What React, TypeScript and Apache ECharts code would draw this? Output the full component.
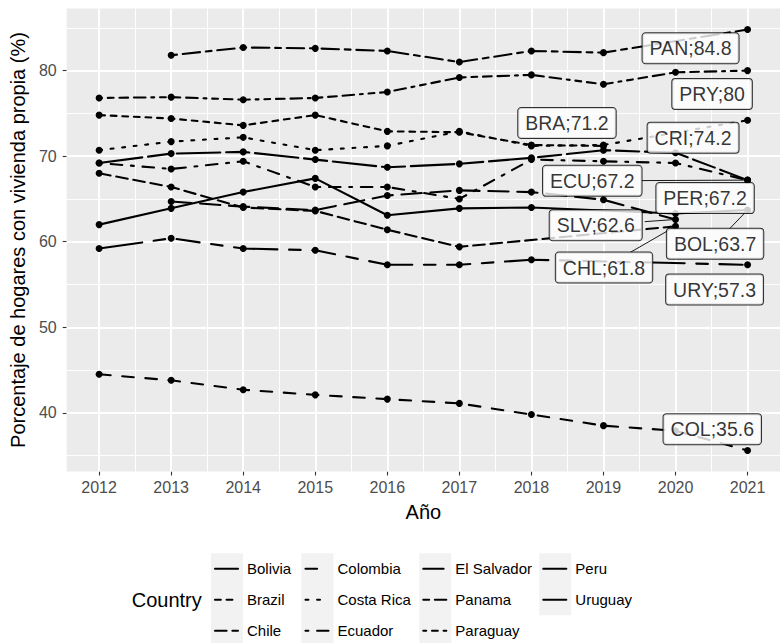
import React, { useEffect, useRef } from 'react';
import * as echarts from 'echarts';

// ---------------- data ----------------
const years = [2012, 2013, 2014, 2015, 2016, 2017, 2018, 2019, 2020, 2021];
const countries = ['Bolivia', 'Brazil', 'Chile', 'Colombia', 'Costa Rica', 'Ecuador', 'El Salvador', 'Panama', 'Paraguay', 'Peru', 'Uruguay'];
const codes = ['BOL', 'BRA', 'CHL', 'COL', 'CRI', 'ECU', 'SLV', 'PAN', 'PRY', 'PER', 'URY'];

const bolivia = [62.0, 63.9, 65.8, 67.4, 63.1, 63.9, 64.0, null, 63.3, 63.7];
const brazil = [74.8, 74.4, 73.6, 74.8, 72.9, 72.8, 71.3, 71.2, null, null];
const chile = [68.0, 66.4, 64.0, 63.6, 61.4, 59.4, null, null, 61.8, null];
const colombia = [44.5, 43.8, 42.7, 42.1, 41.6, 41.1, 39.8, 38.5, 37.9, 35.6];
const costaRica = [70.7, 71.7, 72.2, 70.7, 71.2, 72.9, 71.2, 71.3, null, 74.2];
const ecuador = [69.2, 68.5, 69.4, 66.4, 66.4, 65.0, 69.6, 69.4, 69.2, 67.2];
const elSalvador = [null, 64.7, 64.1, 63.7, 65.4, 66.0, 65.8, 64.9, 62.6, null];
const panama = [null, 81.8, 82.7, 82.6, 82.3, 81.0, 82.3, 82.1, null, 84.8];
const paraguay = [76.8, 76.9, 76.6, 76.8, 77.5, 79.2, 79.5, 78.4, 79.8, 80.0];
const peru = [69.2, 70.3, 70.5, 69.6, 68.7, 69.1, 69.8, 70.7, 70.4, 67.2];
const uruguay = [59.2, 60.4, 59.2, 59.0, 57.3, 57.3, 57.9, null, null, 57.3];

const values: (number | null)[][] = [bolivia, brazil, chile, colombia, costaRica, ecuador, elSalvador, panama, paraguay, peru, uruguay];

const yTicks = [40, 50, 60, 70, 80];
const yMinor = [35, 45, 55, 65, 75, 85];
const xMinor = [2012.5, 2013.5, 2014.5, 2015.5, 2016.5, 2017.5, 2018.5, 2019.5, 2020.5];

// ggplot2 default linetype sequence
const lineTypes = ['solid', '22', '42', '44', '13', '1343', '73', '2262', '12223242', 'F282', 'F4448444'];

// ---------------- layout / style ----------------
const FONT = '"Liberation Sans", Arial, sans-serif';
const DASH_UNIT = 2.9;
const LINE_W = 2.1;
const LABEL_HALF_W = 49;
const LABEL_HALF_H = 15;

// label centre offsets (px) from the labelled point, plus whether a segment is drawn
const LABEL_OFFSETS: Record<string, [number, number, boolean]> = {
  PAN: [-57, 18.7, false],
  PRY: [-35.5, 23.5, false],
  BRA: [-36.5, -22.9, false],
  CRI: [-54.5, 17.6, false],
  ECU: [-155.3, 0.7, true],
  PER: [-42.5, 18, false],
  SLV: [-79.8, 5.7, true],
  BOL: [-32.5, 33.8, true],
  CHL: [-71.5, 41.2, true],
  URY: [-33, 24.7, false],
  COL: [-35.3, -21.3, false],
};

const LEGEND_LEFT = [215, 305.5, 423.3, 543.3];
const LEGEND_TOP = 553.3;
const LEGEND_ROW = 31;
const LEGEND_KEY_W = 32;
const LEGEND_LINE_LEN = 23;

function dash(lt: string): any {
  if (lt === 'solid') return 'solid';
  return lt.split('').map((c) => parseInt(c, 16) * DASH_UNIT);
}

function lastPointsOf() {
  return values.map((arr, i) => {
    let k = arr.length - 1;
    while (k >= 0 && arr[k] == null) k--;
    return { name: codes[i], value: [years[k], arr[k] as number] };
  });
}

function buildLegendGraphics(): any[] {
  const g: any[] = [];
  [0, 1, 2, 3].forEach((col) => {
    const n = Math.min(3, countries.length - col * 3);
    g.push({
      type: 'rect',
      x: LEGEND_LEFT[col] - 4,
      y: LEGEND_TOP,
      shape: { width: LEGEND_KEY_W, height: n * LEGEND_ROW },
      style: { fill: '#F2F2F2' },
      z: 0,
      silent: true,
    });
  });
  countries.forEach((c, i) => {
    const col = Math.floor(i / 3);
    const row = i % 3;
    const cy = LEGEND_TOP + row * LEGEND_ROW + LEGEND_ROW / 2;
    const x0 = LEGEND_LEFT[col];
    const d = dash(lineTypes[i]);
    g.push({
      type: 'line',
      shape: { x1: x0, y1: cy, x2: x0 + LEGEND_LINE_LEN, y2: cy },
      style: { stroke: '#000', lineWidth: LINE_W, lineDash: d === 'solid' ? null : d, lineCap: 'round' },
      z: 1,
      silent: true,
    });
    g.push({
      type: 'text',
      x: x0 + LEGEND_KEY_W,
      y: cy,
      style: { text: c, fontFamily: FONT, fontSize: 15, fill: '#000', verticalAlign: 'middle', align: 'left' },
      z: 1,
      silent: true,
    });
  });
  g.push({
    type: 'text',
    x: 131.7,
    y: LEGEND_TOP + LEGEND_ROW * 1.5,
    style: { text: 'Country', fontFamily: FONT, fontSize: 20, fill: '#000', verticalAlign: 'middle', align: 'left' },
    z: 1,
    silent: true,
  });
  return g;
}

function buildOption(legendGraphics: any[]): any {
  const lineSeries = countries.map((c, i) => ({
    name: c,
    type: 'line',
    data: years.map((y, j) => [y, values[i][j]]).filter((p) => p[1] != null),
    symbol: 'none',
    showSymbol: false,
    silent: true,
    zlevel: 1,
    z: 2,
    emphasis: { disabled: true },
    lineStyle: { color: '#000', width: LINE_W, type: dash(lineTypes[i]), cap: 'round', join: 'round' },
    itemStyle: { color: '#000' },
  }));

  const allPoints: number[][] = [];
  values.forEach((arr) => arr.forEach((v, j) => { if (v != null) allPoints.push([years[j], v]); }));

  const gridSeries = {
    type: 'line',
    name: '__grid',
    data: [[2016, 60]],
    symbol: 'none',
    showSymbol: false,
    silent: true,
    zlevel: 0,
    z: 1,
    lineStyle: { width: 0, opacity: 0 },
    markLine: {
      silent: true,
      symbol: ['none', 'none'],
      label: { show: false },
      emphasis: { disabled: true },
      animation: false,
      data: [
        ...xMinor.map((v) => ({ xAxis: v, lineStyle: { color: '#fff', width: 0.95, type: 'solid' } })),
        ...yMinor.map((v) => ({ yAxis: v, lineStyle: { color: '#fff', width: 0.95, type: 'solid' } })),
        ...years.map((v) => ({ xAxis: v, lineStyle: { color: '#fff', width: 1.9, type: 'solid' } })),
        ...yTicks.map((v) => ({ yAxis: v, lineStyle: { color: '#fff', width: 1.9, type: 'solid' } })),
      ],
    },
  };

  return {
    animation: false,
    backgroundColor: '#fff',
    grid: {
      left: 61.7,
      top: 8.5,
      width: 726.7,
      height: 463,
      show: true,
      backgroundColor: '#EBEBEB',
      borderWidth: 0,
    },
    xAxis: {
      type: 'value',
      min: 2011.55,
      max: 2021.45,
      name: 'Año',
      nameLocation: 'middle',
      nameGap: 30,
      nameTextStyle: { fontFamily: FONT, fontSize: 20, color: '#000' },
      axisLine: { show: false },
      splitLine: { show: false },
      axisTick: { show: true, length: 4, customValues: years, lineStyle: { color: '#333', width: 1.1 } },
      axisLabel: { customValues: years, margin: 8, fontFamily: FONT, fontSize: 16, color: '#4D4D4D', formatter: (v: number) => String(v) },
    },
    yAxis: {
      type: 'value',
      min: 33.14,
      max: 87.26,
      name: 'Porcentaje de hogares con vivienda propia (%)',
      nameLocation: 'middle',
      nameRotate: 90,
      nameGap: 31,
      nameTextStyle: { fontFamily: FONT, fontSize: 20, color: '#000' },
      axisLine: { show: false },
      splitLine: { show: false },
      axisTick: { show: true, length: 4, customValues: yTicks, lineStyle: { color: '#333', width: 1.1 } },
      axisLabel: { customValues: yTicks, margin: 10, fontFamily: FONT, fontSize: 16, color: '#4D4D4D' },
    },
    graphic: legendGraphics,
    series: [
      gridSeries,
      ...lineSeries,
      {
        type: 'scatter',
        name: '__points',
        data: allPoints,
        symbol: 'circle',
        symbolSize: 7,
        itemStyle: { color: '#000', opacity: 1, borderWidth: 0 },
        silent: true,
        zlevel: 1,
        z: 3,
        emphasis: { disabled: true },
      },
      {
        type: 'scatter',
        name: '__labels',
        data: lastPointsOf(),
        symbol: 'circle',
        symbolSize: 0.01,
        itemStyle: { color: '#000' },
        silent: true,
        zlevel: 2,
        z: 10,
        emphasis: { disabled: true },
        label: {
          show: true,
          position: 'inside',
          formatter: (p: any) => `${p.name};${p.value[1]}`,
          fontFamily: FONT,
          fontSize: 19.5,
          lineHeight: 21,
          color: '#000',
          backgroundColor: '#fff',
          borderColor: '#000',
          borderWidth: 1,
          borderRadius: 3,
          padding: [5, 7, 4, 7],
        },
        labelLayout: (params: any) => {
          const code = codes[params.dataIndex];
          const off = LABEL_OFFSETS[code];
          const cx = params.rect.x + params.rect.width / 2;
          const cy = params.rect.y + params.rect.height / 2;
          return { x: cx + off[0], y: cy + off[1], align: 'center', verticalAlign: 'middle' };
        },
      },
    ],
  };
}

export default function App() {
  const ref = useRef<HTMLDivElement>(null);
  useEffect(() => {
    if (!ref.current) return;
    const chart = echarts.init(ref.current, null, { renderer: 'svg' });
    const legendGraphics = buildLegendGraphics();
    chart.setOption(buildOption(legendGraphics));

    // ggrepel-style segments from label box edge to the labelled point
    const segs: any[] = [];
    lastPointsOf().forEach((p) => {
      const off = LABEL_OFFSETS[p.name];
      if (!off[2]) return;
      const px = chart.convertToPixel({ gridIndex: 0 }, p.value) as number[];
      const cx = px[0] + off[0];
      const cy = px[1] + off[1];
      const dx = px[0] - cx;
      const dy = px[1] - cy;
      const t = Math.min(
        dx !== 0 ? LABEL_HALF_W / Math.abs(dx) : Infinity,
        dy !== 0 ? LABEL_HALF_H / Math.abs(dy) : Infinity
      );
      segs.push({
        type: 'line',
        shape: { x1: cx + dx * t, y1: cy + dy * t, x2: px[0], y2: px[1] },
        style: { stroke: '#000', lineWidth: 0.9 },
        zlevel: 1,
        z: 50,
        silent: true,
      });
    });
    chart.setOption({ graphic: [...legendGraphics, ...segs] });
    return () => chart.dispose();
  }, []);
  return <div ref={ref} style={{ position: 'fixed', left: 0, top: 0, width: 780, height: 643 }} />;
}
